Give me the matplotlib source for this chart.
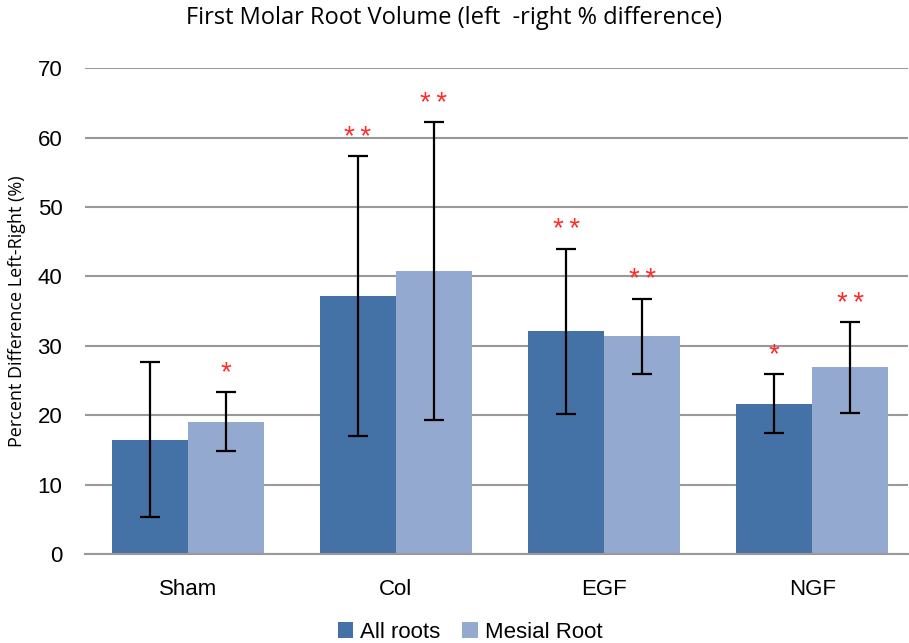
import numpy as np
import matplotlib.pyplot as plt

groups = ["Sham", "Col", "EGF", "NGF"]
all_roots = [16.5, 37.2, 32.1, 21.7]
all_err = [11.2, 20.1, 11.9, 4.2]
mesial = [19.1, 40.8, 31.4, 26.9]
mesial_err = [4.3, 21.4, 5.4, 6.5]
all_stars = ["", "**", "**", "*"]
mesial_stars = ["*", "**", "**", "**"]

c_all = "#4472a6"
c_mes = "#94a9d0"

fig = plt.figure(figsize=(9.09, 6.43), dpi=100)
ax = fig.add_axes([0.093, 0.138, 0.906, 0.756])

x = np.arange(len(groups))
w = 0.365
ax.bar(x - w / 2, all_roots, w, color=c_all, label="All roots", zorder=2)
ax.bar(x + w / 2, mesial, w, color=c_mes, label="Mesial Root", zorder=2)
ax.errorbar(x - w / 2, all_roots, yerr=all_err, fmt="none", ecolor="black",
            elinewidth=1.6, capsize=7, capthick=1.6, zorder=3)
ax.errorbar(x + w / 2, mesial, yerr=mesial_err, fmt="none", ecolor="black",
            elinewidth=1.6, capsize=7, capthick=1.6, zorder=3)

# significance marks
for xi, v, e, s in zip(x - w / 2, all_roots, all_err, all_stars):
    if s:
        ax.text(xi, v + e + 2.7, "\u2009".join(s), color="#ff2a2a", ha="center",
                va="center", fontsize=20, family="Liberation Sans")
for xi, v, e, s in zip(x + w / 2, mesial, mesial_err, mesial_stars):
    if s:
        ax.text(xi, v + e + 2.7, "\u2009".join(s), color="#ff2a2a", ha="center",
                va="center", fontsize=20, family="Liberation Sans")

ax.set_ylim(0, 70)
ax.set_xlim(-0.495, 3.46)
ax.set_yticks(range(0, 71, 10))
ax.set_xticks(x)
ax.set_xticklabels(groups, fontsize=16, family="Liberation Sans")
for t in ax.get_yticklabels():
    t.set_fontsize(16)
    t.set_family("Liberation Sans")
ax.tick_params(length=0, pad=16)
ax.tick_params(axis="x", pad=18)
ax.grid(axis="y", color="#999999", linewidth=1.5, zorder=0)
for sp in ["top", "right", "left"]:
    ax.spines[sp].set_visible(False)
ax.spines["bottom"].set_color("#999999")
ax.spines["bottom"].set_linewidth(1.5)

ax.set_ylabel("Percent Difference Left-Right (%)", fontsize=13,
              family="Open Sans", labelpad=8)
fig.suptitle("First Molar Root Volume (left  -right % difference)",
             fontsize=17, family="Open Sans", y=0.99)

ax.legend(loc="center", bbox_to_anchor=(0.468, -0.16), ncol=2,
          frameon=False, prop={"family": "Liberation Sans", "size": 16},
          handlelength=0.7, handleheight=0.7, handletextpad=0.3,
          columnspacing=1.0, borderpad=0)

fig.savefig("out.png")
